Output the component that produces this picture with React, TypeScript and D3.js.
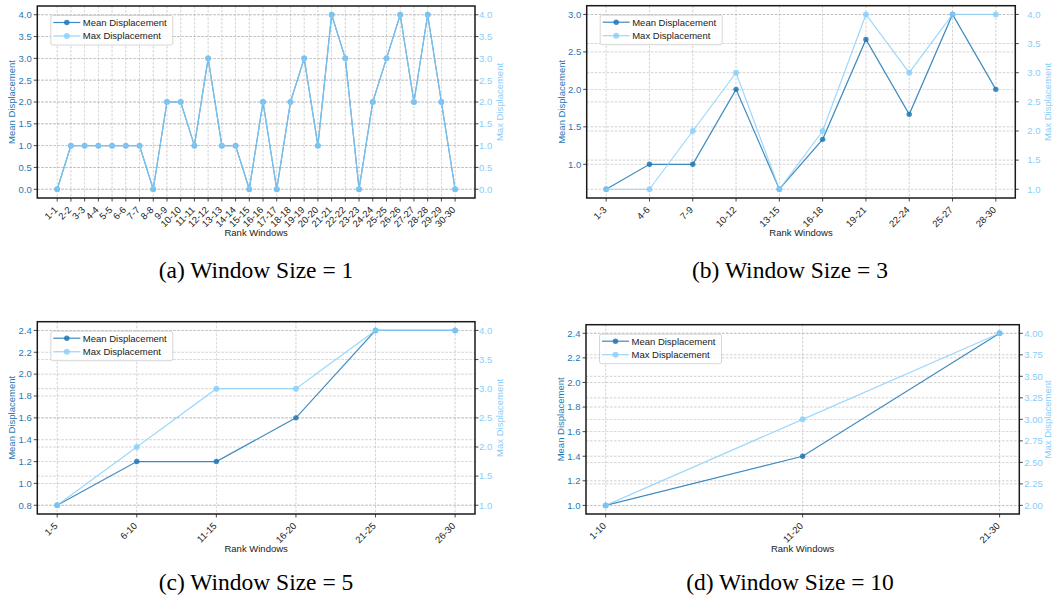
import React from 'react';
import * as d3 from 'd3';

// Rank windows and displacement values per window size

const windows1 = ['1-1', '2-2', '3-3', '4-4', '5-5', '6-6', '7-7', '8-8', '9-9', '10-10', '11-11', '12-12', '13-13', '14-14', '15-15', '16-16', '17-17', '18-18', '19-19', '20-20', '21-21', '22-22', '23-23', '24-24', '25-25', '26-26', '27-27', '28-28', '29-29', '30-30'];
const mean1 = [0, 1, 1, 1, 1, 1, 1, 0, 2, 2, 1, 3, 1, 1, 0, 2, 0, 2, 3, 1, 4, 3, 0, 2, 3, 4, 2, 4, 2, 0];
const max1 = [0, 1, 1, 1, 1, 1, 1, 0, 2, 2, 1, 3, 1, 1, 0, 2, 0, 2, 3, 1, 4, 3, 0, 2, 3, 4, 2, 4, 2, 0];

const windows3 = ['1-3', '4-6', '7-9', '10-12', '13-15', '16-18', '19-21', '22-24', '25-27', '28-30'];
const mean3 = [0.667, 1, 1, 2, 0.667, 1.333, 2.667, 1.667, 3, 2];
const max3 = [1, 1, 2, 3, 1, 2, 4, 3, 4, 4];

const windows5 = ['1-5', '6-10', '11-15', '16-20', '21-25', '26-30'];
const mean5 = [0.8, 1.2, 1.2, 1.6, 2.4, 2.4];
const max5 = [1, 2, 3, 3, 4, 4];

const windows10 = ['1-10', '11-20', '21-30'];
const mean10 = [1.0, 1.4, 2.4];
const max10 = [2, 3, 4];

const MEAN_COLOR = '#1f77b4';
const MAX_COLOR = '#87cefa';
const SANS = '"Liberation Sans", Arial, sans-serif';
const SERIF = '"Liberation Serif", "Times New Roman", serif';

const panels = [
  { cats: windows1, mean: mean1, max: max1, box: { l: 37.3, r: 475, t: 6, b: 198 }, lStep: 0.5, rStep: 0.5, rFmt: '.1f', caption: '(a) Window Size = 1', capX: 256, capY: 278, rPad: 4, rLab: 25 },
  { cats: windows3, mean: mean3, max: max3, box: { l: 586.7, r: 1015.3, t: 5.7, b: 198 }, lStep: 0.5, rStep: 0.5, rFmt: '.1f', caption: '(b) Window Size = 3', capX: 790, capY: 278, rPad: 12, rLab: 32 },
  { cats: windows5, mean: mean5, max: max5, box: { l: 37.3, r: 475, t: 321.7, b: 514 }, lStep: 0.2, rStep: 0.5, rFmt: '.1f', caption: '(c) Window Size = 5', capX: 256, capY: 590, rPad: 4, rLab: 25 },
  { cats: windows10, mean: mean10, max: max10, box: { l: 586, r: 1019.3, t: 324.7, b: 514 }, lStep: 0.2, rStep: 0.25, rFmt: '.2f', caption: '(d) Window Size = 10', capX: 790, capY: 590, rPad: 5, rLab: 28 },
];

const padded = (vals: number[]) => {
  const [lo, hi] = d3.extent(vals) as [number, number];
  const p = (hi - lo) * 0.05;
  return [lo - p, hi + p];
};

const stepTicks = (domain: number[], step: number) =>
  d3.range(Math.ceil(domain[0] / step - 1e-9) * step, domain[1] + 1e-9, step).map(v => Math.round(v * 1000) / 1000);

const Panel = ({ p }: { p: (typeof panels)[number] }) => {
  const { l, r, t, b } = p.box;
  const n = p.cats.length;
  const x = d3.scalePoint<string>().domain(p.cats).range([l, r]).padding(0.05 * (n - 1));
  const yL = d3.scaleLinear().domain(padded(p.mean)).range([b, t]);
  const yR = d3.scaleLinear().domain(padded(p.max)).range([b, t]);
  const lTicks = stepTicks(yL.domain(), p.lStep);
  const rTicks = stepTicks(yR.domain(), p.rStep);
  const lineL = d3.line<number>().x((_, i) => x(p.cats[i])!).y(d => yL(d));
  const lineR = d3.line<number>().x((_, i) => x(p.cats[i])!).y(d => yR(d));
  const grid = { stroke: '#b0b0b0', strokeWidth: 0.7, strokeDasharray: '2.5,1.5', opacity: 0.8 };
  const lgX = l + 13.5;
  const lgY = t + 9.5;

  return (
    <g fontFamily={SANS}>
      {/* grid */}
      {p.cats.map(c => <line key={'gx' + c} x1={x(c)} x2={x(c)} y1={t} y2={b} {...grid} />)}
      {lTicks.map(v => <line key={'gl' + v} x1={l} x2={r} y1={yL(v)} y2={yL(v)} {...grid} />)}
      {rTicks.map(v => <line key={'gr' + v} x1={l} x2={r} y1={yR(v)} y2={yR(v)} {...grid} />)}

      {/* series */}
      <path d={lineL(p.mean)!} fill="none" stroke={MEAN_COLOR} strokeWidth={1.2} opacity={0.85} />
      {p.mean.map((v, i) => <circle key={'m' + i} cx={x(p.cats[i])} cy={yL(v)} r={2.7} fill={MEAN_COLOR} opacity={0.85} />)}
      <path d={lineR(p.max)!} fill="none" stroke={MAX_COLOR} strokeWidth={1.2} opacity={0.8} />
      {p.max.map((v, i) => <circle key={'x' + i} cx={x(p.cats[i])} cy={yR(v)} r={3} fill={MAX_COLOR} opacity={0.8} />)}

      {/* frame */}
      <rect x={l} y={t} width={r - l} height={b - t} fill="none" stroke="#1a1a1a" strokeWidth={1.5} />

      {/* left axis */}
      {lTicks.map(v => (
        <g key={'lt' + v}>
          <line x1={l - 3.5} x2={l} y1={yL(v)} y2={yL(v)} stroke="#1a1a1a" strokeWidth={0.8} />
          <text x={l - 5.5} y={yL(v)} dy="0.35em" textAnchor="end" fontSize={9.5} fill={MEAN_COLOR}>{d3.format('.1f')(v)}</text>
        </g>
      ))}
      <text transform={`translate(${l - 25.5},${(t + b) / 2}) rotate(-90)`} textAnchor="middle" dy="0.35em" fontSize={9.5} fill={MEAN_COLOR}>Mean Displacement</text>

      {/* right axis */}
      {rTicks.map(v => (
        <g key={'rt' + v}>
          <line x1={r} x2={r + 3.5} y1={yR(v)} y2={yR(v)} stroke="#1a1a1a" strokeWidth={0.8} />
          <text x={r + p.rPad} y={yR(v)} dy="0.35em" fontSize={9.5} fill={MAX_COLOR}>{d3.format(p.rFmt)(v)}</text>
        </g>
      ))}
      <text transform={`translate(${r + p.rLab},${(t + b) / 2}) rotate(-90)`} textAnchor="middle" dy="0.35em" fontSize={9.5} fill={MAX_COLOR}>Max Displacement</text>

      {/* x axis */}
      {p.cats.map(c => (
        <g key={'xt' + c}>
          <line x1={x(c)} x2={x(c)} y1={b} y2={b + 3.5} stroke="#1a1a1a" strokeWidth={0.8} />
          <text transform={`translate(${x(c)! + 1},${b + 12.5}) rotate(-45)`} textAnchor="end" fontSize={9.5} fill="#222">{c}</text>
        </g>
      ))}
      <text x={(l + r) / 2} y={b + 35} dy="0.35em" textAnchor="middle" fontSize={9.5} fill="#222">Rank Windows</text>

      {/* legend */}
      <rect x={lgX} y={lgY} width={122} height={29.5} rx={2} fill="#fff" fillOpacity={0.8} stroke="#cccccc" strokeWidth={0.8} />
      <line x1={lgX + 2.5} x2={lgX + 29.5} y1={lgY + 7} y2={lgY + 7} stroke={MEAN_COLOR} strokeWidth={1.2} opacity={0.85} />
      <circle cx={lgX + 16} cy={lgY + 7} r={2.7} fill={MEAN_COLOR} opacity={0.85} />
      <text x={lgX + 32} y={lgY + 7} dy="0.35em" fontSize={9.5} fill="#222">Mean Displacement</text>
      <line x1={lgX + 2.5} x2={lgX + 29.5} y1={lgY + 20.5} y2={lgY + 20.5} stroke={MAX_COLOR} strokeWidth={1.2} opacity={0.8} />
      <circle cx={lgX + 16} cy={lgY + 20.5} r={3} fill={MAX_COLOR} opacity={0.8} />
      <text x={lgX + 32} y={lgY + 20.5} dy="0.35em" fontSize={9.5} fill="#222">Max Displacement</text>

      {/* caption */}
      <text x={p.capX} y={p.capY} textAnchor="middle" fontFamily={SERIF} fontSize={23.5} fill="#000">{p.caption}</text>
    </g>
  );
};

const App = () => (
  <svg width={1053} height={600} style={{ position: 'absolute', left: 0, top: 0, background: '#fff' }}>
    {panels.map(p => <Panel key={p.caption} p={p} />)}
  </svg>
);

export default App;
